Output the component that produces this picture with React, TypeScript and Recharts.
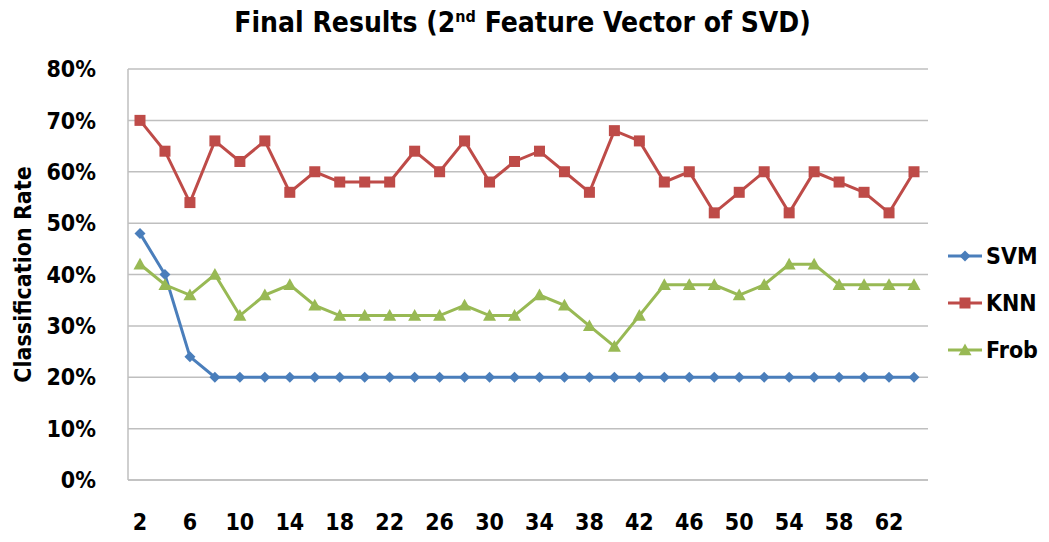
import React from "react";
import { LineChart, Line, XAxis, YAxis, CartesianGrid } from "recharts";

const categories = [2,4,6,8,10,12,14,16,18,20,22,24,26,28,30,32,34,36,38,40,42,44,46,48,50,52,54,56,58,60,62,64];
const svm = [48,40,24,20,20,20,20,20,20,20,20,20,20,20,20,20,20,20,20,20,20,20,20,20,20,20,20,20,20,20,20,20];
const knn = [70,64,54,66,62,66,56,60,58,58,58,64,60,66,58,62,64,60,56,68,66,58,60,52,56,60,52,60,58,56,52,60];
const frob = [42,38,36,40,32,36,38,34,32,32,32,32,32,34,32,32,36,34,30,26,32,38,38,38,36,38,42,42,38,38,38,38];
const yTicks = [0,10,20,30,40,50,60,70,80];

const COLORS = { SVM: "#4a7ebb", KNN: "#be4b48", Frob: "#98b954" };
const FONT = "'Liberation Sans Narrow', 'DejaVu Sans Condensed', 'Open Sans', sans-serif";

const data = categories.map((c, i) => ({ x: c, SVM: svm[i], KNN: knn[i], Frob: frob[i] }));

const Diamond = (props: any) => {
  const { cx, cy, fill } = props;
  if (cx == null || cy == null) return null;
  const r = 5.5;
  return <path d={`M${cx},${cy - r}L${cx + r},${cy}L${cx},${cy + r}L${cx - r},${cy}Z`} fill={fill} />;
};
const Square = (props: any) => {
  const { cx, cy, fill } = props;
  if (cx == null || cy == null) return null;
  const r = 5.5;
  return <rect x={cx - r} y={cy - r} width={2 * r} height={2 * r} fill={fill} />;
};
const Tri = (props: any) => {
  const { cx, cy, fill } = props;
  if (cx == null || cy == null) return null;
  const r = 6.5;
  return <path d={`M${cx},${cy - r}L${cx + r},${cy + r * 0.8}L${cx - r},${cy + r * 0.8}Z`} fill={fill} />;
};

const legendItems = [
  { name: "SVM", color: COLORS.SVM, shape: "diamond" },
  { name: "KNN", color: COLORS.KNN, shape: "square" },
  { name: "Frob", color: COLORS.Frob, shape: "tri" },
];

const LegendBox = () => (
  <div
    style={{
      position: "absolute",
      left: 947,
      top: 232,
      fontFamily: FONT,
      fontWeight: "bold",
      fontSize: 23,
      color: "#000",
    }}
  >
    {legendItems.map((it) => (
      <div key={it.name} style={{ display: "flex", alignItems: "center", height: 47 }}>
        <svg width={36} height={20} style={{ marginRight: 3 }}>
          <line x1={1} y1={10} x2={35} y2={10} stroke={it.color} strokeWidth={3} />
          {it.shape === "diamond" && <Diamond cx={18} cy={10} fill={it.color} />}
          {it.shape === "square" && <Square cx={18} cy={10} fill={it.color} />}
          {it.shape === "tri" && <Tri cx={18} cy={10} fill={it.color} />}
        </svg>
        <span>{it.name}</span>
      </div>
    ))}
  </div>
);

export default function App() {
  return (
    <div style={{ position: "absolute", left: 0, top: 0, width: 1049, height: 542, background: "#fff" }}>
      <div
        style={{
          position: "absolute",
          left: 0,
          top: 6,
          width: 1045,
          textAlign: "center",
          fontFamily: FONT,
          fontWeight: "bold",
          fontSize: 28,
          color: "#000",
        }}
      >
        Final Results (2<sup style={{ fontSize: 16 }}>nd</sup> Feature Vector of SVD)
      </div>
      <LineChart
        width={1049}
        height={542}
        data={data}
        margin={{ top: 69, right: 121, bottom: 22, left: 28 }}
      >
        <CartesianGrid vertical={false} stroke="#bfbfbf" strokeWidth={1.5} />
        <XAxis
          dataKey="x"
          interval={1}
          padding={{ left: 12, right: 14 }}
          tickLine={false}
          axisLine={{ stroke: "#bfbfbf", strokeWidth: 1.5 }}
          height={40}
          tickMargin={28}
          tick={{ fontFamily: FONT, fontWeight: "bold", fontSize: 23, fill: "#000" }}
        />
        <YAxis
          domain={[0, 80]}
          ticks={yTicks}
          tickFormatter={(v: number) => `${v}%`}
          tickLine={false}
          axisLine={{ stroke: "#bfbfbf", strokeWidth: 1.5 }}
          width={100}
          tickMargin={26}
          tick={{ fontFamily: FONT, fontWeight: "bold", fontSize: 23, fill: "#000" }}
          label={{
            value: "Classification Rate",
            angle: -90,
            position: "insideLeft",
            offset: -5,
            style: { fontFamily: FONT, fontWeight: "bold", fontSize: 23, fill: "#000", textAnchor: "middle" },
          }}
        />
        <Line type="linear" dataKey="SVM" stroke={COLORS.SVM} strokeWidth={3} dot={<Diamond fill={COLORS.SVM} />} activeDot={false} isAnimationActive={false} />
        <Line type="linear" dataKey="KNN" stroke={COLORS.KNN} strokeWidth={3} dot={<Square fill={COLORS.KNN} />} activeDot={false} isAnimationActive={false} />
        <Line type="linear" dataKey="Frob" stroke={COLORS.Frob} strokeWidth={3} dot={<Tri fill={COLORS.Frob} />} activeDot={false} isAnimationActive={false} />
      </LineChart>
      <LegendBox />
    </div>
  );
}
